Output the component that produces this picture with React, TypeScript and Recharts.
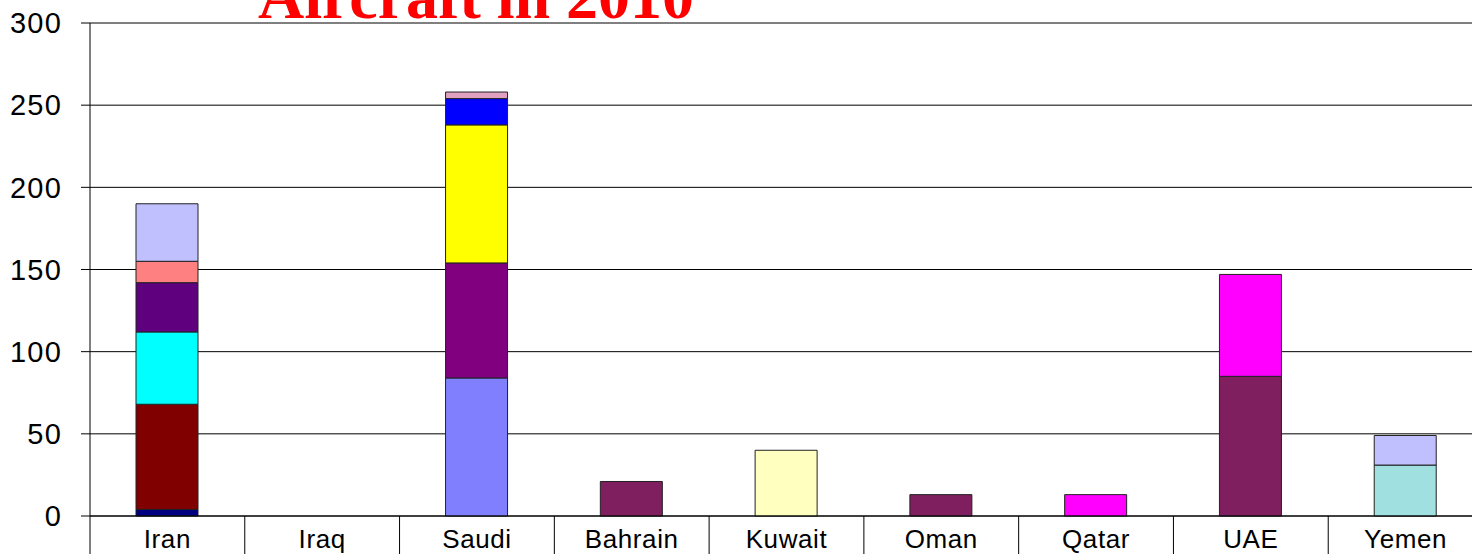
import { Bar, BarChart, CartesianGrid, XAxis, YAxis } from "recharts";

const countries = ["Iran", "Iraq", "Saudi", "Bahrain", "Kuwait", "Oman", "Qatar", "UAE", "Yemen"];
const yTicks = [0, 50, 100, 150, 200, 250, 300];

// one array per aircraft group, in stacking order (bottom to top)
const navy = [4, 0, 0, 0, 0, 0, 0, 0, 0];
const maroon = [64, 0, 0, 0, 0, 0, 0, 0, 0];
const cyan = [44, 0, 0, 0, 0, 0, 0, 0, 0];
const darkPurple = [30, 0, 0, 0, 0, 0, 0, 0, 0];
const salmon = [13, 0, 0, 0, 0, 0, 0, 0, 0];
const periwinkle = [0, 0, 84, 0, 0, 0, 0, 0, 0];
const violet = [0, 0, 70, 0, 0, 0, 0, 0, 0];
const yellow = [0, 0, 84, 0, 0, 0, 0, 0, 0];
const blue = [0, 0, 16, 0, 0, 0, 0, 0, 0];
const pink = [0, 0, 4, 0, 0, 0, 0, 0, 0];
const plum = [0, 0, 0, 21, 0, 13, 0, 85, 0];
const ivory = [0, 0, 0, 0, 40, 0, 0, 0, 0];
const magenta = [0, 0, 0, 0, 0, 0, 13, 62, 0];
const teal = [0, 0, 0, 0, 0, 0, 0, 0, 31];
const lavender = [35, 0, 0, 0, 0, 0, 0, 0, 18];

const series = [
  { key: "navy", values: navy, fill: "#000080" },
  { key: "maroon", values: maroon, fill: "#800000" },
  { key: "cyan", values: cyan, fill: "#00ffff" },
  { key: "darkPurple", values: darkPurple, fill: "#5f007f" },
  { key: "salmon", values: salmon, fill: "#ff8080" },
  { key: "periwinkle", values: periwinkle, fill: "#8080ff" },
  { key: "violet", values: violet, fill: "#800080" },
  { key: "yellow", values: yellow, fill: "#ffff00" },
  { key: "blue", values: blue, fill: "#0000ff" },
  { key: "pink", values: pink, fill: "#e0a0c0" },
  { key: "plum", values: plum, fill: "#7f1f5f" },
  { key: "ivory", values: ivory, fill: "#ffffc0" },
  { key: "magenta", values: magenta, fill: "#ff00ff" },
  { key: "teal", values: teal, fill: "#a0e0e0" },
  { key: "lavender", values: lavender, fill: "#c0c0ff" },
];

const data = countries.map((name, i) => {
  const row: Record<string, string | number> = { name };
  series.forEach((s) => {
    row[s.key] = s.values[i];
  });
  return row;
});

const CHART_W = 1483;
const CHART_H = 554;
const AXIS_W = 90;
const BAND = (CHART_W - AXIS_W) / countries.length;
const FONT = "'Liberation Sans', Arial, sans-serif";

function CountryTick(props: any) {
  const { x, y, payload } = props;
  return (
    <g>
      <line x1={x - BAND / 2} x2={x - BAND / 2} y1={y} y2={y + 40} stroke="#000" />
      <text
        x={x}
        y={y + 32}
        textAnchor="middle"
        fontSize={26}
        letterSpacing={0.6}
        fontFamily={FONT}
        fill="#000"
      >
        {payload.value}
      </text>
    </g>
  );
}

export default function App() {
  return (
    <div
      style={{
        position: "fixed",
        left: 0,
        top: 0,
        width: 1472,
        height: CHART_H,
        overflow: "hidden",
        background: "#fff",
      }}
    >
      <BarChart
        width={CHART_W}
        height={CHART_H}
        data={data}
        margin={{ top: 23, right: 0, left: 0, bottom: 0 }}
      >
        <CartesianGrid vertical={false} stroke="#000" />
        <XAxis
          dataKey="name"
          height={38}
          stroke="#000"
          tickLine={false}
          tickSize={0}
          tickMargin={0}
          interval={0}
          tick={<CountryTick />}
        />
        <YAxis
          width={AXIS_W}
          domain={[0, 300]}
          ticks={yTicks}
          stroke="#000"
          tickSize={9}
          tickMargin={19}
          tick={{ fontSize: 29, fontFamily: FONT, fill: "#000", letterSpacing: 1.2 }}
        />
        {series.map((s) => (
          <Bar
            key={s.key}
            dataKey={s.key}
            stackId="a"
            fill={s.fill}
            stroke="#222"
            strokeWidth={1}
            barSize={62}
            isAnimationActive={false}
          />
        ))}
      </BarChart>
      <svg
        width={1472}
        height={40}
        style={{ position: "absolute", left: 0, top: 0, pointerEvents: "none" }}
      >
        <text
          x={258}
          y={18}
          fontSize={64}
          fontWeight="bold"
          fontFamily="'Liberation Serif', 'Times New Roman', serif"
          fill="#ff0000"
        >
          Aircraft in 2010
        </text>
      </svg>
    </div>
  );
}
